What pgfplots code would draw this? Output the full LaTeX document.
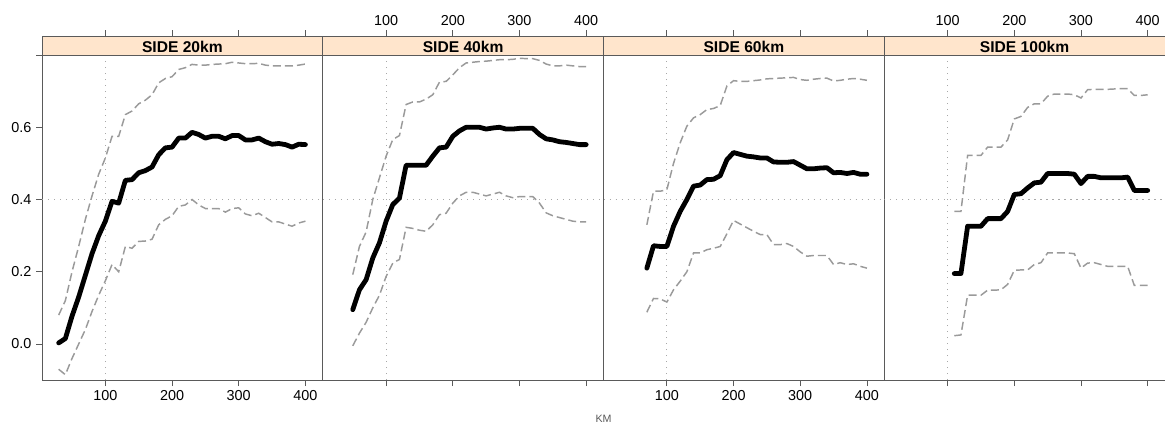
\documentclass[border=0pt]{standalone}
\usepackage{pgfplots}
\pgfplotsset{compat=1.18}
\usepackage{pgfplotstable}
\usepackage{fontspec}
\setmainfont{Liberation Sans}

\definecolor{stripcol}{HTML}{FFE5CC}
\definecolor{framecol}{HTML}{5A5A5A}
\definecolor{bandcol}{HTML}{9A9A9A}
\definecolor{refcol}{HTML}{A8A8A8}

% columns: km, fitted mean, lower and upper band
\pgfplotstableread{
km mean lo hi
30 0.003 -0.070 0.080
40 0.015 -0.085 0.120
50 0.077 -0.040 0.200
60 0.130 0.000 0.270
70 0.190 0.040 0.345
80 0.250 0.090 0.410
90 0.300 0.135 0.470
100 0.340 0.175 0.515
110 0.395 0.220 0.575
120 0.390 0.200 0.575
130 0.453 0.270 0.635
140 0.455 0.265 0.645
150 0.474 0.284 0.665
160 0.480 0.285 0.675
170 0.490 0.290 0.690
180 0.524 0.330 0.723
190 0.543 0.345 0.735
200 0.545 0.355 0.740
210 0.570 0.381 0.760
220 0.570 0.385 0.765
230 0.586 0.400 0.774
240 0.580 0.385 0.772
250 0.570 0.375 0.772
260 0.575 0.375 0.774
270 0.575 0.375 0.775
280 0.568 0.365 0.776
290 0.577 0.375 0.780
300 0.577 0.377 0.778
310 0.565 0.360 0.776
320 0.565 0.355 0.776
330 0.570 0.362 0.777
340 0.560 0.350 0.772
350 0.553 0.338 0.770
360 0.555 0.338 0.770
370 0.552 0.332 0.770
380 0.545 0.326 0.770
390 0.553 0.335 0.772
400 0.552 0.340 0.775
}\sidetwenty

\pgfplotstableread{
km mean lo hi
50 0.095 -0.005 0.192
60 0.150 0.030 0.270
70 0.178 0.060 0.310
80 0.238 0.100 0.400
90 0.280 0.135 0.460
100 0.340 0.187 0.520
110 0.386 0.224 0.566
120 0.404 0.234 0.577
130 0.495 0.323 0.663
140 0.495 0.320 0.670
150 0.495 0.315 0.670
160 0.495 0.312 0.678
170 0.520 0.330 0.690
180 0.543 0.358 0.725
190 0.545 0.362 0.727
200 0.575 0.390 0.745
210 0.590 0.410 0.765
220 0.600 0.420 0.778
230 0.600 0.420 0.780
240 0.600 0.415 0.782
250 0.595 0.410 0.783
260 0.598 0.415 0.785
270 0.600 0.420 0.787
280 0.595 0.410 0.787
290 0.595 0.405 0.788
300 0.597 0.408 0.791
310 0.597 0.408 0.790
320 0.597 0.408 0.790
330 0.580 0.390 0.785
340 0.568 0.363 0.775
350 0.565 0.355 0.770
360 0.560 0.350 0.770
370 0.558 0.345 0.772
380 0.555 0.340 0.770
390 0.552 0.338 0.768
400 0.552 0.338 0.768
}\sideforty

\pgfplotstableread{
km mean lo hi
70 0.210 0.088 0.330
80 0.272 0.126 0.423
90 0.270 0.125 0.423
100 0.270 0.116 0.427
110 0.326 0.150 0.500
120 0.367 0.174 0.557
130 0.400 0.200 0.603
140 0.437 0.252 0.626
150 0.440 0.252 0.635
160 0.455 0.261 0.649
170 0.456 0.265 0.652
180 0.466 0.270 0.660
190 0.510 0.305 0.714
200 0.530 0.342 0.729
210 0.525 0.332 0.727
220 0.520 0.322 0.727
230 0.518 0.312 0.729
240 0.515 0.303 0.731
250 0.515 0.303 0.734
260 0.504 0.275 0.735
270 0.503 0.275 0.736
280 0.503 0.278 0.737
290 0.505 0.270 0.738
300 0.495 0.255 0.732
310 0.485 0.243 0.730
320 0.485 0.245 0.733
330 0.487 0.245 0.735
340 0.488 0.245 0.736
350 0.474 0.220 0.728
360 0.475 0.225 0.730
370 0.472 0.220 0.733
380 0.475 0.222 0.735
390 0.470 0.215 0.733
400 0.470 0.210 0.730
}\sidesixty

\pgfplotstableread{
km mean lo hi
110 0.195 0.023 0.367
120 0.195 0.025 0.367
130 0.326 0.135 0.522
140 0.326 0.135 0.522
150 0.326 0.135 0.522
160 0.347 0.149 0.545
170 0.347 0.149 0.545
180 0.347 0.150 0.545
190 0.367 0.165 0.565
200 0.414 0.204 0.623
210 0.416 0.205 0.630
220 0.432 0.205 0.655
230 0.446 0.220 0.665
240 0.448 0.225 0.665
250 0.472 0.252 0.686
260 0.472 0.252 0.692
270 0.472 0.252 0.692
280 0.472 0.252 0.692
290 0.470 0.250 0.690
300 0.444 0.210 0.681
310 0.464 0.224 0.704
320 0.464 0.225 0.705
330 0.460 0.220 0.705
340 0.460 0.215 0.705
350 0.460 0.215 0.706
360 0.460 0.215 0.707
370 0.462 0.215 0.707
380 0.425 0.162 0.688
390 0.425 0.162 0.688
400 0.425 0.162 0.690
}\sidehundred

\pgfplotsset{
  common/.style={
    scale only axis, width=210.5pt,
    xmin=5, xmax=426,
    xtick={100,200,300,400},
    tick align=outside, major tick length=4.5pt,
    axis line style={framecol, line width=0.6pt},
    every tick/.style={framecol, line width=0.6pt},
    tick label style={font=\fontsize{10.8}{12}\selectfont, black},
    /pgf/number format/assume math mode=true,
  },
  panel/.style={
    common, height=243.75pt,
    ymin=-0.1, ymax=0.8,
    xtick pos=lower,
    ytick=\empty,
  },
  strip/.style={
    common, height=14.25pt,
    anchor=south west,
    ymin=0, ymax=1, ytick=\empty,
    xtick pos=upper, xticklabel pos=upper,
    axis background/.style={fill=stripcol},
  },
  meanline/.style={black, line width=3.6pt, line join=round, line cap=round},
  bandline/.style={bandcol, line width=1.1pt, dash pattern=on 6pt off 3pt},
  refline/.style={refcol, line width=0.9pt, dash pattern=on 0.9pt off 3.6pt},
}

\newcommand{\panelplots}[1]{%
  \addplot[refline] coordinates {(100,-0.1) (100,0.8)};
  \addplot[refline] coordinates {(5,0.4) (426,0.4)};
  \addplot[bandline] table[x=km, y=hi] {#1};
  \addplot[bandline] table[x=km, y=lo] {#1};
  \addplot[meanline] table[x=km, y=mean] {#1};
}
\newcommand{\striptext}[1]{\node[font=\fontsize{11.7}{13}\selectfont\bfseries] at (rel axis cs:0.5,0.45) {#1};}

\begin{document}
\begin{tikzpicture}
\useasboundingbox (-31.5pt,-33.75pt) rectangle (842pt,285pt);

% panel 1
\begin{axis}[panel, name=p1, at={(0pt,0pt)}, anchor=south west,
  ytick={0,0.2,0.4,0.6,0.8}, yticklabels={0.0,0.2,0.4,0.6,}, ytick pos=left]
\panelplots{\sidetwenty}
\end{axis}
\begin{axis}[strip, at={(0pt,243.75pt)}, xticklabels={}]
\striptext{SIDE 20km}
\end{axis}

% panel 2
\begin{axis}[panel, name=p2, at={(210.5pt,0pt)}, anchor=south west, xticklabels={}]
\panelplots{\sideforty}
\end{axis}
\begin{axis}[strip, at={(210.5pt,243.75pt)}]
\striptext{SIDE 40km}
\end{axis}

% panel 3
\begin{axis}[panel, name=p3, at={(421pt,0pt)}, anchor=south west]
\panelplots{\sidesixty}
\end{axis}
\begin{axis}[strip, at={(421pt,243.75pt)}, xticklabels={}]
\striptext{SIDE 60km}
\end{axis}

% panel 4
\begin{axis}[panel, name=p4, at={(631.5pt,0pt)}, anchor=south west, xticklabels={}]
\panelplots{\sidehundred}
\end{axis}
\begin{axis}[strip, at={(631.5pt,243.75pt)}]
\striptext{SIDE 100km}
\end{axis}

\node[font=\fontsize{8}{9}\selectfont, text=framecol] at ([yshift=-29pt]p2.south east) {KM};
\end{tikzpicture}
\end{document}
